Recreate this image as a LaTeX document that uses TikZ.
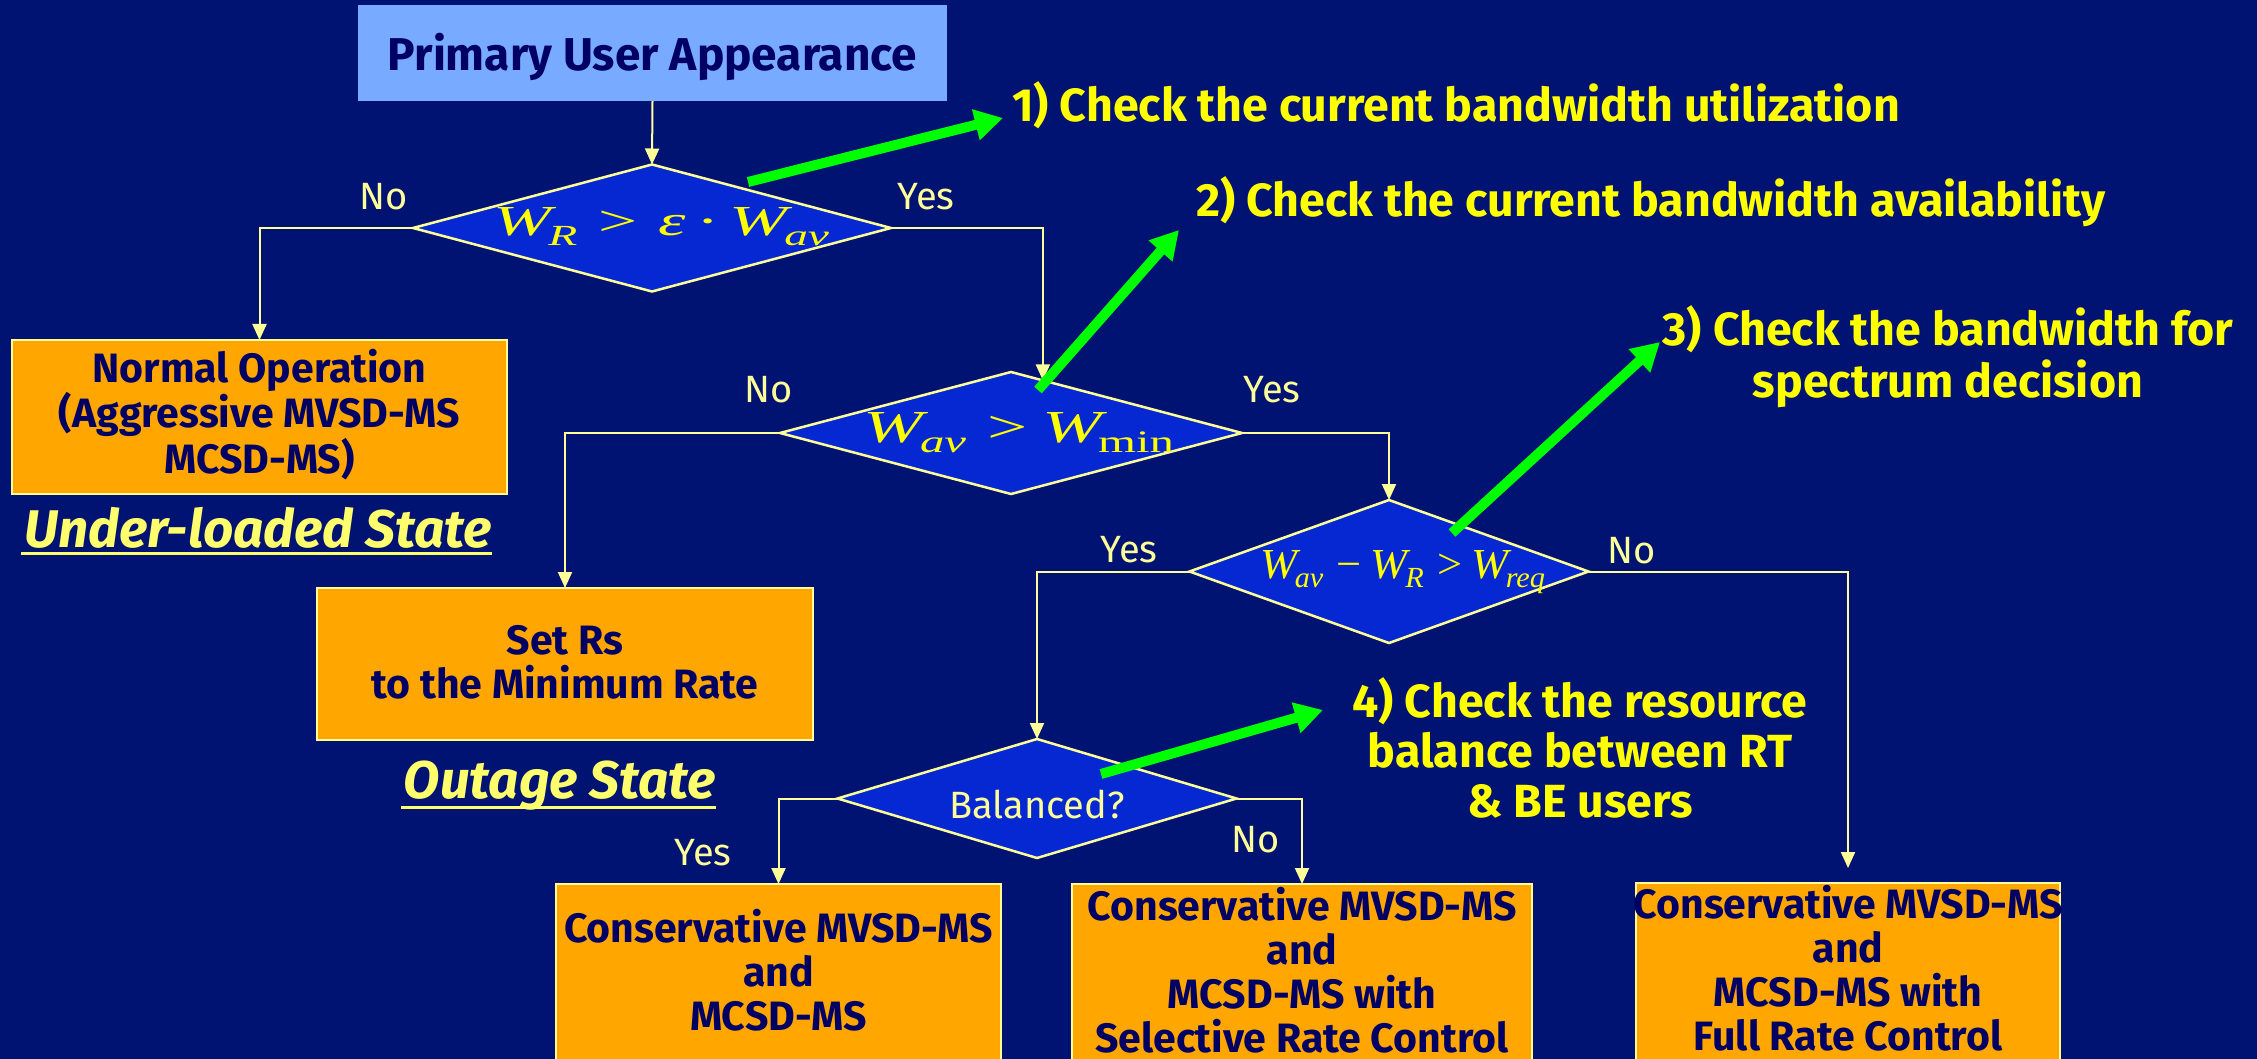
\documentclass[tikz,border=0pt]{standalone}
\usepackage{fontspec}
\setmainfont{Fira Sans}
\newfontfamily\mth{Liberation Serif}
\usetikzlibrary{arrows.meta,shapes.geometric,calc}

\definecolor{bgnavy}{RGB}{0,19,115}
\definecolor{decblue}{RGB}{6,40,210}
\definecolor{paleyel}{RGB}{255,255,153}
\definecolor{stateyel}{RGB}{255,255,110}
\definecolor{boxorange}{RGB}{255,166,0}
\definecolor{skyblue}{RGB}{120,170,255}
\definecolor{inkblue}{RGB}{0,0,100}
\definecolor{brightyel}{RGB}{255,255,0}
\definecolor{arrowgreen}{RGB}{0,255,0}

% italic W with a lowered subscript, in a Times-like face
\newcommand\Wsb[1]{{\itshape W}\kern-0.05em\raisebox{-0.22em}{\fontsize{30}{30}\selectfont #1}}

\begin{document}
\begin{tikzpicture}[x=1pt,y=-1pt,
  startbox/.style={rectangle, fill=skyblue, inner sep=0pt, outer sep=0pt},
  actbox/.style={rectangle, draw=paleyel, line width=2pt, fill=boxorange, inner sep=0pt, outer sep=0pt},
  decision/.style={diamond, draw=paleyel, line width=2.5pt, fill=decblue, inner sep=0pt, outer sep=0pt},
  boxtext/.style={text=inkblue, font=\fontsize{41}{44}\selectfont\bfseries, align=center, inner sep=0pt, anchor=base},
  titletext/.style={text=inkblue, font=\fontsize{46}{50}\selectfont\bfseries, inner sep=0pt, anchor=base},
  callout/.style={text=brightyel, font=\fontsize{46.5}{52}\selectfont\bfseries, align=center, inner sep=0pt, anchor=base},
  branch/.style={text=paleyel, font=\fontsize{38}{40}\selectfont, inner sep=0pt, anchor=base},
  statetext/.style={text=stateyel, font=\fontsize{53}{56}\selectfont\bfseries\itshape, inner sep=0pt, anchor=base},
  formula/.style={text=brightyel, font=\fontsize{44}{48}\selectfont\mth, inner sep=0pt, anchor=base},
  flow/.style={draw=paleyel, line width=2pt, -{Triangle[length=16pt,width=14pt]}},
  hint/.style={draw=arrowgreen, line width=10pt, -{Triangle[length=28pt,width=30pt]}}
]
\useasboundingbox (0,0) rectangle (2257,1059);
\clip (0,0) rectangle (2257,1059);
\fill[bgnavy] (0,0) rectangle (2257,1059);

% ---- process boxes
\node[startbox, minimum width=589pt, minimum height=96pt] (pua) at (652.5,53) {};
\node[actbox, minimum width=495pt, minimum height=154pt] (normal) at (259.5,417) {};
\node[actbox, minimum width=496pt, minimum height=152pt] (setrs) at (565,664) {};
\node[actbox, minimum width=445pt, minimum height=200pt] (consbal) at (778.5,984) {};
\node[actbox, minimum width=460pt, minimum height=200pt] (conssel) at (1302,984) {};
\node[actbox, minimum width=424pt, minimum height=202pt] (consfull) at (1848,984) {};

% ---- decisions
\node[decision, minimum width=478pt, minimum height=127pt] (d1) at (652,228) {};
\node[decision, minimum width=462pt, minimum height=122pt] (d2) at (1011,433) {};
\node[decision, minimum width=399pt, minimum height=143pt] (d3) at (1389,571.5) {};
\node[decision, minimum width=399pt, minimum height=119pt] (d4) at (1037,798.5) {};

% ---- box texts (anchored at the baseline of their last line)
\node[titletext] (puatxt) at (652.5,71) {Primary User Appearance};
\node[boxtext] (normaltxt) at (259.5,473) {Normal Operation\\(Aggressive MVSD-MS\\MCSD-MS)};
\node[boxtext] (setrstxt) at (565,698) {Set Rs\\to the Minimum Rate};
\node[boxtext] (consbaltxt) at (778.5,1030) {Conservative MVSD-MS\\and\\MCSD-MS};
\node[boxtext] (consseltxt) at (1302,1052) {Conservative MVSD-MS\\and\\MCSD-MS with\\Selective Rate Control};
\node[boxtext] (consfulltxt) at (1848,1050) {Conservative MVSD-MS\\and\\MCSD-MS with\\Full Rate Control};

% ---- decision conditions
\node[formula] (f1) at (661.5,236) {\resizebox{335pt}{28pt}{\Wsb{\itshape R}\hspace{0.3em}>\hspace{0.3em}{\itshape ε}\hspace{0.15em}·\hspace{0.15em}\Wsb{\itshape av}}};
\node[formula] (f2) at (1019,442) {\resizebox{310pt}{30pt}{\Wsb{\itshape av}\hspace{0.3em}>\hspace{0.2em}\Wsb{min}}};
\node[formula] (f3) at (1402.5,578) {\resizebox{285pt}{28pt}{\Wsb{\itshape av}\hspace{0.3em}−\hspace{0.2em}\Wsb{\itshape R}\hspace{0.3em}>\hspace{0.2em}\Wsb{\itshape req}}};
\node[branch] (baltxt) at (1037,818) {Balanced?};

% ---- branch labels
\node[branch] (d1no) at (384,210) {No};
\node[branch] (d1yes) at (926,210) {Yes};
\node[branch] (d2no) at (769,402) {No};
\node[branch] (d2yes) at (1272,402) {Yes};
\node[branch] (d3yes) at (1129,562) {Yes};
\node[branch] (d3no) at (1632,563) {No};
\node[branch] (d4yes) at (703,865) {Yes};
\node[branch] (d4no) at (1256,852) {No};

% ---- state captions
\node[statetext] (under) at (258,547) {Under-loaded State};
\draw[stateyel, line width=3pt] ($(under.base west)+(-3,6)$) -- ($(under.base east)+(0,6)$);
\node[statetext] (outage) at (560,798) {Outage State};
\draw[stateyel, line width=3pt] ($(outage.base west)+(-3,9)$) -- ($(outage.base east)+(0,9)$);

% ---- flow connectors
\coordinate (j2) at ($(d2.north)!0.138!(d2.east)$);
\coordinate (fullend) at ($(consfull.north)+(0,-15)$);
\draw[flow] (pua.south) -- (d1.north);
\draw[flow] (d1.west) -| (normal.north);
\draw[flow] (d1.east) -| (j2);
\draw[flow] (d2.west) -| (setrs.north);
\draw[flow] (d2.east) -| (d3.north);
\draw[flow] (d3.west) -| (d4.north);
\draw[flow] (d3.east) -| (fullend);
\draw[flow] (d4.west) -| (consbal.north);
\draw[flow] (d4.east) -| (conssel.north);

% ---- step callouts (multi-line ones anchored at their last baseline)
\node[callout, anchor=base west] (c1) at (1012,122) {1) Check the current bandwidth utilization};
\node[callout, anchor=base west] (c2) at (1196,217) {2) Check the current bandwidth availability};
\node[callout] (c3) at (1948,397) {3) Check the bandwidth for\\spectrum decision};
\node[callout, font=\fontsize{46.5}{50}\selectfont\bfseries] (c4) at (1580,817) {4) Check the resource\\balance between RT\\\& BE users};

% ---- pointer arrows
\coordinate (g1s) at (748,182);  \coordinate (g1e) at (1003,118);
\coordinate (g2s) at (1038,390); \coordinate (g2e) at (1179,230);
\coordinate (g3s) at (1452,533); \coordinate (g3e) at (1660,342);
\coordinate (g4s) at (1101,774); \coordinate (g4e) at (1323,710);
\draw[hint] (g1s) -- (g1e);
\draw[hint] (g2s) -- (g2e);
\draw[hint] (g3s) -- (g3e);
\draw[hint] (g4s) -- (g4e);
\end{tikzpicture}
\end{document}
